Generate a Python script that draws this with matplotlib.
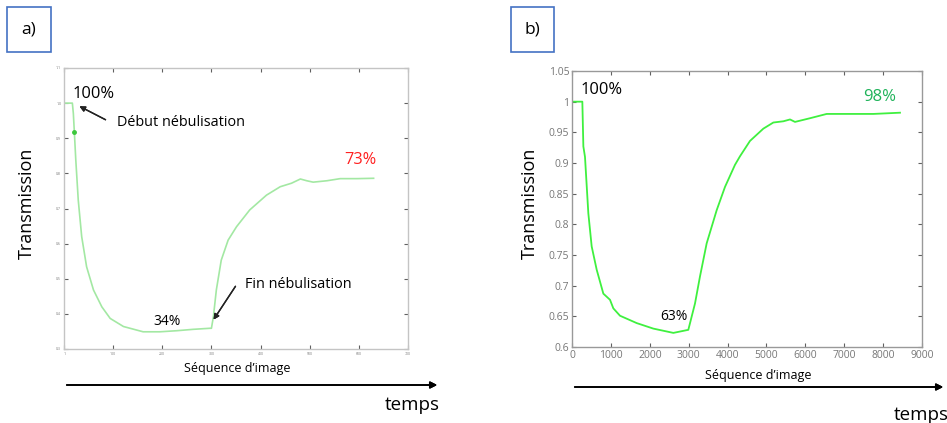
import numpy as np
import matplotlib.pyplot as plt
from matplotlib.patches import Rectangle

plt.rcParams['font.family'] = ['Open Sans', 'DejaVu Sans']

# panel a) : transmission vs image index
frames_a = [0, 17, 19, 21, 24, 29, 36, 46, 60, 77, 94, 121, 161, 195, 229, 263,
            297, 300, 304, 310, 320, 334, 351, 378, 412, 440, 463, 481, 494, 507,
            535, 562, 596, 630]
trans_a = [1.0, 1.0, 0.971, 0.919, 0.838, 0.724, 0.62, 0.534, 0.468, 0.42, 0.387,
           0.364, 0.349, 0.349, 0.352, 0.356, 0.359, 0.359, 0.392, 0.468, 0.553,
           0.61, 0.648, 0.696, 0.738, 0.762, 0.772, 0.784, 0.779, 0.775, 0.779,
           0.785, 0.785, 0.786]
xticks_a = [1, 100, 200, 300, 400, 500, 600, 700]
yticks_a = [0.3, 0.4, 0.5, 0.6, 0.7, 0.8, 0.9, 1.0, 1.1]

# panel b)
frames_b = [0, 266, 292, 334, 420, 506, 635, 806, 977, 1063, 1234, 1663, 2091,
            2606, 2991, 3163, 3291, 3463, 3720, 3934, 4191, 4320, 4577, 4920,
            5177, 5434, 5606, 5734, 6120, 6549, 6891, 7749, 8434]
trans_b = [1.0, 1.0, 0.927, 0.910, 0.818, 0.764, 0.726, 0.687, 0.677, 0.663,
           0.651, 0.639, 0.630, 0.623, 0.628, 0.671, 0.715, 0.769, 0.823, 0.861,
           0.897, 0.911, 0.936, 0.956, 0.966, 0.968, 0.971, 0.967, 0.973, 0.980,
           0.980, 0.980, 0.982]
xticks_b = [0, 1000, 2000, 3000, 4000, 5000, 6000, 7000, 8000, 9000]
yticks_b = [0.6, 0.65, 0.7, 0.75, 0.8, 0.85, 0.9, 0.95, 1, 1.05]

W, H = 947, 423
fig = plt.figure(figsize=(W / 100, H / 100), dpi=100)


def fx(px):
    return px / W


def fy(py):
    return 1 - py / H


def box(x0, y0, x1, y1):
    return [fx(x0), fy(y1), fx(x1) - fx(x0), fy(y0) - fy(y1)]


def style_axes(ax, labsize, spine_col):
    for s in ax.spines.values():
        s.set_color(spine_col)
        s.set_linewidth(1.0)
    ax.tick_params(direction='in', length=3, color='#606060', labelsize=labsize,
                   labelcolor='#777777', top=True, right=True, pad=2)


# ---- panel a
ax1 = fig.add_axes(box(64, 68, 408, 349))
ax1.plot(frames_a, trans_a, color='#a3e8a3', lw=1.2)
ax1.plot(frames_a[3], trans_a[3], marker='o', ms=2.5, color='#3cc83c')
ax1.set_xlim(0, 700)
ax1.set_ylim(0.3, 1.1)
ax1.set_xticks(xticks_a)
ax1.set_yticks(yticks_a)
ax1.set_xticklabels([str(v) for v in xticks_a])
ax1.set_yticklabels(['%.1f' % v for v in yticks_a])
style_axes(ax1, 2.5, '#c4c4c4')

# ---- panel b
ax2 = fig.add_axes(box(572, 71, 922, 347))
ax2.plot(frames_b, trans_b, color='#3ff03f', lw=1.3)
ax2.set_xlim(0, 9000)
ax2.set_ylim(0.6, 1.05)
ax2.set_xticks(xticks_b)
ax2.set_yticks(yticks_b)
ax2.set_xticklabels([str(v) for v in xticks_b])
ax2.set_yticklabels(['%g' % v for v in yticks_b])
style_axes(ax2, 7.5, '#999999')

# ---- labelled boxes
for (x0, x1, lab) in [(7, 51, 'a)'), (511, 554, 'b)')]:
    fig.add_artist(Rectangle((fx(x0), fy(52)), fx(x1) - fx(x0), fy(7) - fy(52),
                             transform=fig.transFigure, fill=False,
                             edgecolor='#4472c4', lw=1.2))
    fig.text(fx((x0 + x1) / 2), fy(30), lab, ha='center', va='center', fontsize=12.5)

# y labels
fig.text(fx(27), fy(203), 'Transmission', rotation=90, ha='center', va='center', fontsize=13)
fig.text(fx(530), fy(203), 'Transmission', rotation=90, ha='center', va='center', fontsize=13)

# x labels
fig.text(fx(237), fy(368), 'Séquence d\u2019image', ha='center', va='center', fontsize=9)
fig.text(fx(758), fy(375), 'Séquence d\u2019image', ha='center', va='center', fontsize=9)

# time arrows
for (x0, x1, y, tx, ty) in [(64, 440, 385, 412, 405), (572, 946, 387, 921, 415)]:
    fig.add_artist(plt.annotate('', xy=(fx(x1), fy(y)), xytext=(fx(x0), fy(y)),
                                xycoords='figure fraction',
                                arrowprops=dict(arrowstyle='-|>', color='black', lw=1.2,
                                                mutation_scale=10)))
    fig.text(fx(tx), fy(ty), 'temps', ha='center', va='center', fontsize=13.5)

# annotations panel a
fig.text(fx(73), fy(94), '100%', ha='left', va='center', fontsize=11.9)
fig.text(fx(117), fy(122), 'Début nébulisation', ha='left', va='center', fontsize=10.4)
fig.text(fx(153), fy(321), '34%', ha='left', va='center', fontsize=10)
fig.text(fx(245), fy(285), 'Fin nébulisation', ha='left', va='center', fontsize=10.4)
fig.text(fx(344), fy(160), '73%', ha='left', va='center', fontsize=11.7, color='#ff2020')
fig.add_artist(plt.annotate('', xy=(fx(77), fy(105)), xytext=(fx(108), fy(121)),
                            xycoords='figure fraction',
                            arrowprops=dict(arrowstyle='-|>', color='#222222', lw=1.0,
                                            mutation_scale=8)))
fig.add_artist(plt.annotate('', xy=(fx(212), fy(322)), xytext=(fx(237), fy(284)),
                            xycoords='figure fraction',
                            arrowprops=dict(arrowstyle='-|>', color='#222222', lw=1.0,
                                            mutation_scale=8)))

# annotations panel b
fig.text(fx(581), fy(90), '100%', ha='left', va='center', fontsize=11.9)
fig.text(fx(660), fy(316), '63%', ha='left', va='center', fontsize=10)
fig.text(fx(863), fy(97), '98%', ha='left', va='center', fontsize=12, color='#1fb35a')

fig.savefig('out.png', dpi=100)
